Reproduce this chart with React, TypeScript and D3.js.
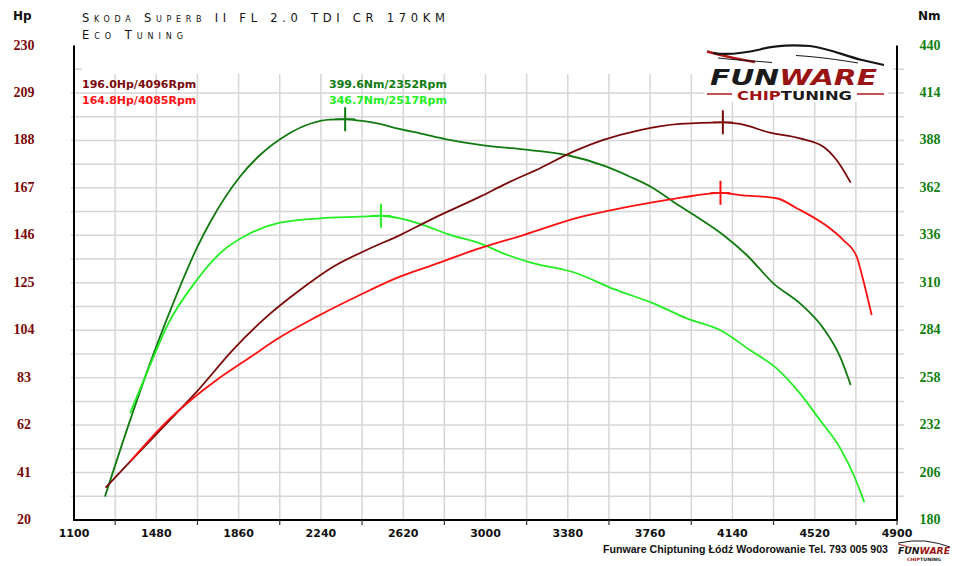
import { scaleLinear, line, curveMonotoneX, range } from 'd3';

// ============================================
// DATA
// ============================================

const rpmTicks = [1100, 1480, 1860, 2240, 2620, 3000, 3380, 3760, 4140, 4520, 4900];
const hpTicks = [20, 41, 62, 83, 104, 125, 146, 167, 188, 209, 230];
const nmTicks = [180, 206, 232, 258, 284, 310, 336, 362, 388, 414, 440];

// Power after tuning (Hp)
const powerTunedRpm = [1246, 1359, 1528, 1667, 1836, 1990, 2143, 2297, 2451, 2605, 2759, 2975, 3098, 3252, 3405, 3544, 3713, 3898, 4096, 4175, 4313, 4452, 4560, 4621, 4686];
const powerTuned = [34.3, 45.8, 62.8, 76.8, 95.5, 110.0, 121.8, 132.1, 139.5, 146.1, 153.5, 163.1, 169.0, 175.7, 183.0, 188.2, 192.6, 195.3, 196.0, 195.3, 191.4, 188.9, 185.2, 179.3, 169.3];

// Stock power (Hp)
const powerStockRpm = [1359, 1528, 1697, 1759, 1913, 2036, 2221, 2420, 2605, 2759, 2975, 3175, 3436, 3621, 3867, 3959, 4085, 4175, 4344, 4437, 4590, 4652, 4714, 4744, 4783];
const powerStock = [45.8, 63.5, 77.5, 82.0, 92.0, 100.0, 110.0, 119.6, 127.7, 132.9, 140.3, 146.1, 154.0, 157.9, 162.1, 163.5, 164.8, 163.8, 162.4, 158.0, 149.1, 143.9, 136.5, 126.2, 110.7];

// Torque after tuning (Nm)
const torqueTunedRpm = [1243, 1362, 1474, 1574, 1667, 1728, 1866, 1959, 2082, 2197, 2282, 2352, 2420, 2513, 2590, 2698, 2821, 2975, 3205, 3375, 3559, 3667, 3775, 3867, 3975, 4098, 4206, 4329, 4452, 4560, 4637, 4686];
const torqueTuned = [192.8, 235.7, 273.2, 303.5, 329.0, 343.0, 368.1, 380.0, 391.0, 397.4, 399.4, 399.6, 398.8, 397.0, 394.6, 391.9, 388.6, 385.5, 382.7, 380.0, 373.6, 368.1, 361.8, 354.4, 346.2, 336.2, 325.2, 309.7, 298.7, 285.0, 269.5, 254.0];

// Stock torque (Nm)
const torqueStockRpm = [1359, 1413, 1474, 1528, 1667, 1774, 1913, 2051, 2236, 2420, 2517, 2605, 2713, 2836, 2975, 3082, 3205, 3421, 3590, 3775, 3929, 4083, 4221, 4344, 4452, 4544, 4637, 4706, 4749];
const torqueStock = [238.5, 254.0, 271.3, 285.9, 311.5, 326.1, 337.1, 342.9, 345.3, 346.2, 346.7, 345.3, 341.6, 336.2, 331.6, 326.1, 321.2, 315.2, 306.6, 298.7, 290.5, 284.1, 273.1, 263.1, 249.4, 234.8, 219.5, 203.0, 189.7];

const powerTunedPeak = { rpm: 4096, value: 196.0 };
const powerStockPeak = { rpm: 4085, value: 164.8 };
const torqueTunedPeak = { rpm: 2352, value: 399.6 };
const torqueStockPeak = { rpm: 2517, value: 346.7 };

// ============================================
// STYLE
// ============================================

const W = 960;
const H = 566;
const PLOT = { left: 74, right: 897, top: 45.5, bottom: 520 };

const DARK_RED = '#7a0a0a';
const RED = '#ff1010';
const DARK_GREEN = '#107a10';
const LIGHT_GREEN = '#22ee22';
const GRID = '#d6d6d6';

const SANS = 'DejaVu Sans, Verdana, sans-serif';
const SERIF = 'Liberation Serif, Times New Roman, serif';

type Pt = [number, number];
const zip = (xs: number[], ys: number[]): Pt[] => xs.map((x, i) => [x, ys[i]]);

export default function App() {
  const x = scaleLinear().domain([1100, 4900]).range([PLOT.left, PLOT.right]);
  const yHp = scaleLinear().domain([20, 230]).range([PLOT.bottom, PLOT.top]);
  const yNm = scaleLinear().domain([180, 440]).range([PLOT.bottom, PLOT.top]);

  const hpLine = line<Pt>().x((d) => x(d[0])).y((d) => yHp(d[1])).curve(curveMonotoneX);
  const nmLine = line<Pt>().x((d) => x(d[0])).y((d) => yNm(d[1])).curve(curveMonotoneX);

  // grid steps: half of each labelled interval
  const vGrid = range(1, 20).map((i) => 1100 + i * 190);
  const hGrid = range(1, 20).map((i) => 20 + i * 10.5);

  const curves = [
    { d: nmLine(zip(torqueTunedRpm, torqueTuned)), color: DARK_GREEN },
    { d: nmLine(zip(torqueStockRpm, torqueStock)), color: LIGHT_GREEN },
    { d: hpLine(zip(powerTunedRpm, powerTuned)), color: DARK_RED },
    { d: hpLine(zip(powerStockRpm, powerStock)), color: RED },
  ];

  const peaks = [
    { cx: x(torqueTunedPeak.rpm), cy: yNm(torqueTunedPeak.value), color: DARK_GREEN },
    { cx: x(torqueStockPeak.rpm), cy: yNm(torqueStockPeak.value), color: LIGHT_GREEN },
    { cx: x(powerTunedPeak.rpm), cy: yHp(powerTunedPeak.value), color: DARK_RED },
    { cx: x(powerStockPeak.rpm), cy: yHp(powerStockPeak.value), color: RED },
  ];

  return (
    <div style={{ position: 'absolute', left: 0, top: 0, width: W, height: H, background: '#fff' }}>
      <svg width={W} height={H} viewBox={`0 0 ${W} ${H}`}>
        <rect width={W} height={H} fill="#fff" />

        {/* Grid */}
        {vGrid.map((r) => (
          <line key={`v${r}`} x1={x(r)} x2={x(r)} y1={74} y2={PLOT.bottom} stroke={GRID} strokeWidth={1.5} />
        ))}
        {hGrid.map((h, i) =>
          i < 18 ? (
            <line key={`h${h}`} x1={PLOT.left - 3} x2={PLOT.right + 7} y1={yHp(h)} y2={yHp(h)} stroke={GRID} strokeWidth={1.5} />
          ) : (
            <g key={`h${h}`}>
              <line x1={PLOT.left} x2={PLOT.left + 8} y1={yHp(h)} y2={yHp(h)} stroke={GRID} strokeWidth={1.5} />
              <line x1={PLOT.right - 4} x2={PLOT.right + 7} y1={yHp(h)} y2={yHp(h)} stroke={GRID} strokeWidth={1.5} />
            </g>
          )
        )}

        {/* Axes */}
        <line x1={PLOT.left} x2={PLOT.left} y1={PLOT.top} y2={PLOT.bottom + 1} stroke="#000" strokeWidth={2} />
        <line x1={PLOT.right} x2={PLOT.right} y1={PLOT.top} y2={PLOT.bottom + 1} stroke="#000" strokeWidth={2} />
        <line x1={PLOT.left - 1} x2={PLOT.right + 1} y1={PLOT.bottom} y2={PLOT.bottom} stroke="#000" strokeWidth={2} />
        {vGrid
          .filter((_, i) => i % 2 === 0)
          .map((r) => (
            <line key={`t${r}`} x1={x(r)} x2={x(r)} y1={PLOT.bottom} y2={PLOT.bottom + 5} stroke="#333" strokeWidth={1.2} />
          ))}
        <line x1={PLOT.right} x2={PLOT.right} y1={PLOT.bottom} y2={PLOT.bottom + 5} stroke="#333" strokeWidth={1.2} />

        {/* Axis labels */}
        {rpmTicks.map((r) => (
          <text key={`xl${r}`} x={x(r)} y={537} textAnchor="middle" fontFamily={SANS} fontWeight="bold" fontSize={11} fill="#111">
            {r}
          </text>
        ))}
        {hpTicks.map((h) => (
          <text key={`yl${h}`} x={24} y={yHp(h) + 4} textAnchor="middle" fontFamily={SERIF} fontWeight="bold" fontSize={14} fill="#7a0a0a">
            {h}
          </text>
        ))}
        {nmTicks.map((n) => (
          <text key={`yr${n}`} x={930} y={yNm(n) + 4} textAnchor="middle" fontFamily={SERIF} fontWeight="bold" fontSize={14} fill="#108010">
            {n}
          </text>
        ))}
        <text x={13} y={20} fontFamily={SANS} fontWeight="bold" fontSize={12} fill="#111">Hp</text>
        <text x={918} y={20} fontFamily={SANS} fontWeight="bold" fontSize={12} fill="#111">Nm</text>

        {/* Title */}
        <text x={82} y={21.5} fontFamily={SANS} fontSize={11.5} fill="#111" style={{ fontVariant: 'small-caps' }} textLength={363} lengthAdjust="spacing">
          Skoda Superb II FL 2.0 TDI CR 170KM
        </text>
        <text x={82} y={39} fontFamily={SANS} fontSize={11.5} fill="#111" style={{ fontVariant: 'small-caps' }} textLength={101} lengthAdjust="spacing">
          Eco Tuning
        </text>

        {/* Curves */}
        {curves.map((c, i) => (
          <path key={`c${i}`} d={c.d || ''} fill="none" stroke={c.color} strokeWidth={1.8} strokeLinejoin="round" />
        ))}
        {peaks.map((p, i) => (
          <g key={`p${i}`} stroke={p.color} strokeWidth={2}>
            <line x1={p.cx} x2={p.cx} y1={p.cy - 12} y2={p.cy + 12} />
            <line x1={p.cx - 10} x2={p.cx + 10} y1={p.cy} y2={p.cy} strokeWidth={1.5} />
          </g>
        ))}

        {/* Peak legend */}
        <g fontFamily={SANS} fontWeight="bold" fontSize={11}>
          <text x={82} y={88} fill={DARK_RED}>{`${powerTunedPeak.value.toFixed(1)}Hp/${powerTunedPeak.rpm}Rpm`}</text>
          <text x={82} y={104} fill={RED}>{`${powerStockPeak.value.toFixed(1)}Hp/${powerStockPeak.rpm}Rpm`}</text>
          <text x={329} y={88} fill={DARK_GREEN}>{`${torqueTunedPeak.value.toFixed(1)}Nm/${torqueTunedPeak.rpm}Rpm`}</text>
          <text x={329} y={104} fill={LIGHT_GREEN}>{`${torqueStockPeak.value.toFixed(1)}Nm/${torqueStockPeak.rpm}Rpm`}</text>
        </g>

        {/* Logo */}
        <g>
          <rect x={704} y={42} width={184} height={60} fill="#fff" />
          <path d="M707,51.5 C720,55 735,59 755,62" fill="none" stroke="#b01818" strokeWidth={2.5} />
          <path d="M713,53 C725,55 740,54 760,49.5 C772,46 790,44.5 810,46 C828,48 845,56 862,60 L884,65" fill="none" stroke="#161616" strokeWidth={2.2} />
          <path d="M718,58 C735,60 755,61 772,62.5" fill="none" stroke="#161616" strokeWidth={1} />
          <path d="M796,55.5 C820,57 840,60 858,63" fill="none" stroke="#161616" strokeWidth={1} />
          <text x={710} y={84.5} fontFamily={SANS} fontWeight="bold" fontStyle="italic" fontSize={22} textLength={167} lengthAdjust="spacingAndGlyphs">
            <tspan fill="#1a1a1a">FUN</tspan>
            <tspan fill="#9b1414">WARE</tspan>
          </text>
          <line x1={707} x2={732} y1={94} y2={94} stroke="#b01818" strokeWidth={1.5} />
          <line x1={857} x2={884} y1={94} y2={94} stroke="#b01818" strokeWidth={1.5} />
          <text x={737} y={100} fontFamily={SANS} fontWeight="bold" fontSize={11.5} textLength={115} lengthAdjust="spacingAndGlyphs">
            <tspan fill="#a01010">CHIP</tspan>
            <tspan fill="#1a1a1a">TUNING</tspan>
          </text>
        </g>

        {/* Footer */}
        <text x={603} y={553} fontFamily="Liberation Sans, Arial, sans-serif" fontWeight="bold" fontSize={10.5} fill="#111" textLength={285} lengthAdjust="spacingAndGlyphs">
          Funware Chiptuning Łódź Wodorowanie Tel. 793 005 903
        </text>
        <g>
          <path d="M898,543 Q912,540 925,541 Q940,543 950,547" fill="none" stroke="#1a1a1a" strokeWidth={1} />
          <path d="M898,544 Q905,546 912,548" fill="none" stroke="#b01818" strokeWidth={1} />
          <text x={898} y={554} fontFamily={SANS} fontWeight="bold" fontStyle="italic" fontSize={9} textLength={52} lengthAdjust="spacingAndGlyphs">
            <tspan fill="#1a1a1a">FUN</tspan>
            <tspan fill="#9b1414">WARE</tspan>
          </text>
          <text x={907} y={561} fontFamily={SANS} fontWeight="bold" fontSize={4.5} textLength={34} lengthAdjust="spacingAndGlyphs">
            <tspan fill="#a01010">CHIP</tspan>
            <tspan fill="#1a1a1a">TUNING</tspan>
          </text>
        </g>
      </svg>
    </div>
  );
}
